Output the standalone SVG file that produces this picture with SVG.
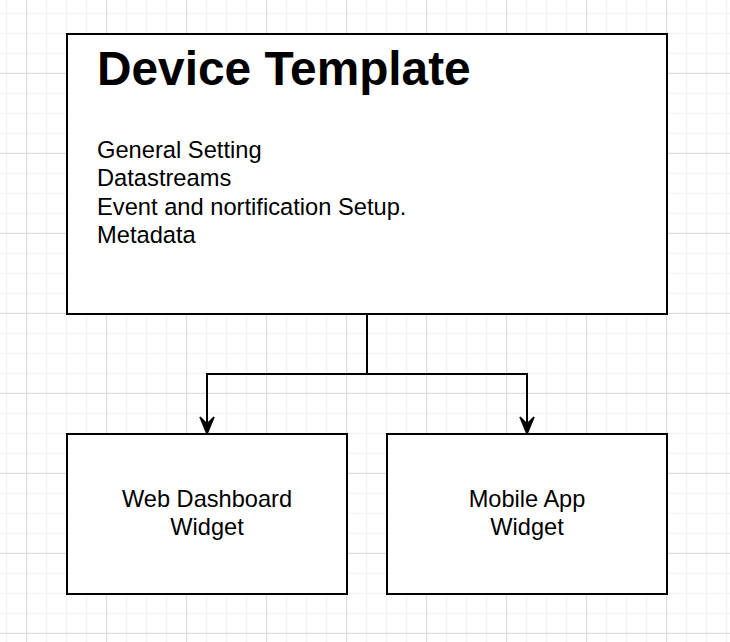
<svg xmlns="http://www.w3.org/2000/svg" width="730" height="642" viewBox="0 0 730 642">
  <defs>
    <pattern id="grid" patternUnits="userSpaceOnUse" x="26.2" y="72.8" width="80" height="80">
      <rect x="0" y="20" width="80" height="1" fill="#f0f0f0"/>
      <rect x="0" y="40" width="80" height="1" fill="#f0f0f0"/>
      <rect x="0" y="60" width="80" height="1" fill="#f0f0f0"/>
      <rect x="20" y="0" width="1" height="80" fill="#f0f0f0"/>
      <rect x="40" y="0" width="1" height="80" fill="#f0f0f0"/>
      <rect x="60" y="0" width="1" height="80" fill="#f0f0f0"/>
      <rect x="0" y="0" width="80" height="1" fill="#d6d6d6"/>
      <rect x="0" y="0" width="1" height="80" fill="#d6d6d6"/>
    </pattern>
    <style>
      .box { fill: #ffffff; stroke: #000000; stroke-width: 2; }
      .title { font-family: "Liberation Sans", Arial, sans-serif; font-weight: bold; font-size: 47.8px; fill: #000; }
      .body { font-family: "Liberation Sans", Arial, sans-serif; font-size: 23.7px; fill: #000; }
      .label { font-family: "Liberation Sans", Arial, sans-serif; font-size: 23.6px; fill: #000; text-anchor: middle; }
      .conn { fill: none; stroke: #000; stroke-width: 2; }
      .head { fill: #000; stroke: #000; stroke-width: 1.5; }
    </style>
  </defs>
  <rect x="0" y="0" width="730" height="642" fill="#ffffff"/>
  <rect x="0" y="0" width="730" height="642" fill="url(#grid)"/>

  <g id="connectors">
    <path class="conn" d="M367 314 V374 H207 V424"/>
    <path class="conn" d="M367 374 H527 V424"/>
    <path class="head" d="M207 434 L200 417 L207 424 L214 417 Z"/>
    <path class="head" d="M527 434 L520 417 L527 424 L534 417 Z"/>
  </g>

  <g id="device-template">
    <rect class="box" x="67" y="34" width="600" height="280"/>
    <text class="title" x="97" y="85">Device Template</text>
    <text class="body" x="97" y="157.5">General Setting</text>
    <text class="body" x="97" y="186">Datastreams</text>
    <text class="body" x="97" y="214.7">Event and nortification Setup.</text>
    <text class="body" x="97" y="243">Metadata</text>
  </g>

  <g id="web-dashboard-widget">
    <rect class="box" x="67" y="434" width="280" height="160"/>
    <text class="label" x="207" y="507">Web Dashboard</text>
    <text class="label" x="207" y="535">Widget</text>
  </g>

  <g id="mobile-app-widget">
    <rect class="box" x="387" y="434" width="280" height="160"/>
    <text class="label" x="527" y="507">Mobile App</text>
    <text class="label" x="527" y="535">Widget</text>
  </g>
</svg>
